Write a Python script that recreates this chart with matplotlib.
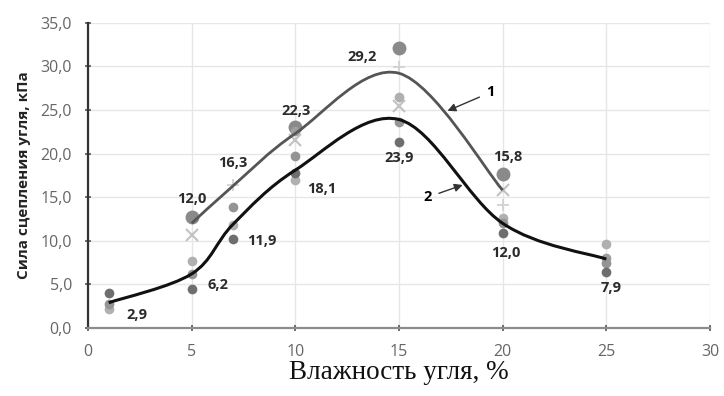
import matplotlib
matplotlib.use('Agg')
import matplotlib.pyplot as plt
from matplotlib.path import Path
from matplotlib.patches import PathPatch
from matplotlib.ticker import FuncFormatter, MultipleLocator
import numpy as np

# кривая 1 (верхняя) и кривая 2 (нижняя)
curve1_x = [5, 7, 10, 15, 20]
curve1_y = [12.0, 16.3, 22.3, 29.2, 15.8]
curve2_x = [1, 5, 7, 10, 15, 20, 25]
curve2_y = [2.9, 6.2, 11.9, 18.1, 23.9, 12.0, 7.9]

# экспериментальные точки
big_x = [5, 10, 15, 20]
big_y = [12.7, 23.0, 32.1, 17.6]
cross_x = [5, 10, 15, 20]
cross_y = [10.7, 21.5, 25.5, 15.8]
plus_x = [7, 15, 20]
plus_y = [16.4, 29.9, 14.1]
dark_x = [1, 5, 7, 10, 15, 20, 25]
dark_y = [4.0, 4.5, 10.2, 17.8, 21.3, 10.9, 6.4]
mid_x = [1, 5, 7, 10, 15, 20, 25]
mid_y = [2.7, 6.2, 13.9, 19.7, 23.6, 12.0, 7.4]
light_x = [1, 5, 7, 10, 15, 20, 25]
light_y = [2.2, 7.7, 11.8, 17.0, 26.5, 12.6, 9.6]
extra_x = [10, 25]
extra_y = [22.6, 8.0]

# подписи значений: смещения в пикселях
labels1_off = [(0, 24), (0, 23), (1, 22), (-37, 16), (5, 33)]
labels2_off = [(28, -12), (26, -11), (29, -17), (26, -19), (0, -38), (3, -30), (5, -29)]


def smooth_path(xs, ys):
    # сглаживание как в Excel: кривые Безье через точки
    pts = np.column_stack([xs, ys]).astype(float)
    n = len(pts)
    verts = [pts[0]]
    codes = [Path.MOVETO]
    for i in range(n - 1):
        p0 = pts[i - 1] if i > 0 else pts[i]
        p1 = pts[i]
        p2 = pts[i + 1]
        p3 = pts[i + 2] if i + 2 < n else pts[i + 1]
        c1 = p1 + (p2 - p0) / 6.0
        c2 = p2 - (p3 - p1) / 6.0
        verts += [c1, c2, p2]
        codes += [Path.CURVE4] * 3
    return Path(verts, codes)


fig = plt.figure(figsize=(7.24, 3.96), dpi=100)
ax = fig.add_axes([0.1215, 0.1717, 0.8592, 0.771])

ax.set_xlim(0, 30)
ax.set_ylim(0, 35)
ax.xaxis.set_major_locator(MultipleLocator(5))
ax.yaxis.set_major_locator(MultipleLocator(5))
ax.yaxis.set_major_formatter(FuncFormatter(lambda v, p: ('%.1f' % v).replace('.', ',')))
ax.grid(True, color='#e6e6e6', linewidth=1.0)
ax.set_axisbelow(True)
for s in ['top', 'right']:
    ax.spines[s].set_visible(False)
ax.spines['left'].set_color('#333333')
ax.spines['left'].set_linewidth(1.6)
ax.spines['bottom'].set_color('#8c8c8c')
ax.spines['bottom'].set_linewidth(1.6)
ax.tick_params(axis='both', direction='inout', length=5, width=1.2, color='#555555',
               labelsize=11.5, labelcolor='#666666')
ax.tick_params(axis='x', pad=9)
ax.tick_params(axis='y', pad=9)
for lab in ax.get_xticklabels() + ax.get_yticklabels():
    lab.set_family('Open Sans')

ax.plot(plus_x, plus_y, '+', color='#d2d2d2', ms=9, mew=1.3, zorder=3)
ax.plot(cross_x, cross_y, 'x', color='#c2c2c2', ms=8, mew=1.5, zorder=3)
ax.plot(big_x, big_y, 'o', color='#8a8a8a', ms=10, mec='none', zorder=3)
ax.plot(light_x, light_y, 'o', color='#b0b0b0', ms=7, mec='none', zorder=3)
ax.plot(extra_x, extra_y, 'o', color='#9e9e9e', ms=7, mec='none', zorder=3)
ax.plot(mid_x, mid_y, 'o', color='#949494', ms=7, mec='none', zorder=3)
ax.plot(dark_x, dark_y, 'o', color='#6e6e6e', ms=7, mec='none', zorder=3)

ax.add_patch(PathPatch(smooth_path(curve1_x, curve1_y), fill=False, edgecolor='#555555', lw=2.0, zorder=4))
ax.add_patch(PathPatch(smooth_path(curve2_x, curve2_y), fill=False, edgecolor='#111111', lw=2.2, zorder=4))

lab_font = dict(family='Open Sans', fontsize=10.5, fontweight='bold', color='#2b2b2b',
                ha='center', va='center', textcoords='offset pixels')
for x, y, off in zip(curve1_x, curve1_y, labels1_off):
    ax.annotate(('%.1f' % y).replace('.', ','), (x, y), xytext=off, **lab_font)
for x, y, off in zip(curve2_x, curve2_y, labels2_off):
    ax.annotate(('%.1f' % y).replace('.', ','), (x, y), xytext=off, **lab_font)

arrow = dict(arrowstyle='-|>', color='#333333', lw=1.0, mutation_scale=12, shrinkA=3, shrinkB=0)
ax.annotate('1', xy=(17.34, 24.9), xytext=(19.4, 27.0), fontsize=10.5, fontweight='bold',
            family='Open Sans', ha='center', va='center', arrowprops=arrow)
ax.annotate('2', xy=(18.07, 16.4), xytext=(16.4, 15.0), fontsize=10.5, fontweight='bold',
            family='Open Sans', ha='center', va='center', arrowprops=arrow)

ax.set_ylabel('Сила сцепления угля, кПа', family='Open Sans', fontsize=11,
              fontweight='bold', color='#222222', labelpad=7)
ax.set_xlabel('Влажность угля, %', family='Liberation Serif', fontsize=19.5,
              color='#111111', labelpad=0)

plt.savefig('out.png', dpi=100)
